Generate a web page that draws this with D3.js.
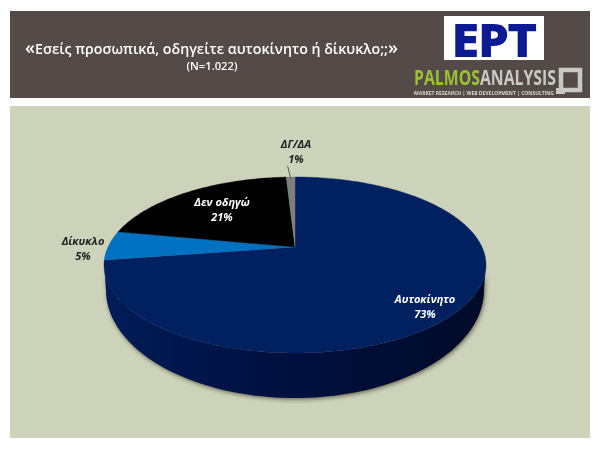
<!DOCTYPE html>
<html><head><meta charset="utf-8">
<script src="https://cdn.jsdelivr.net/npm/d3@7"></script>
<style>html,body{margin:0;padding:0;background:#fff}svg{display:block}text{font-family:"Open Sans","Noto Sans",sans-serif}</style>
</head><body><script>
const categories = ["Αυτοκίνητο","Δίκυκλο","Δεν οδηγώ","ΔΓ/ΔΑ"];
const values = [72.6,5.4,21.1,0.9];
const sliceColors = ["#002060","#0070c0","#000000","#7f7f7f"];
const titleText = "Εσείς προσωπικά, οδηγείτε αυτοκίνητο ή δίκυκλο;;";
const subtitle = "(N=1.022)";

const W=600,H=450;
const svg=d3.select("body").append("svg").attr("width",W).attr("height",H);
const defs=svg.append("defs");
const blur=defs.append("filter").attr("id","soft").attr("x","-5%").attr("y","-5%").attr("width","110%").attr("height","115%");
blur.append("feGaussianBlur").attr("stdDeviation",2.2);
const tb=defs.append("filter").attr("id","tb").attr("x","-5%").attr("y","-20%").attr("width","110%").attr("height","140%");
tb.append("feGaussianBlur").attr("stdDeviation",0.35);
const sideGrad=defs.append("linearGradient").attr("id","side");
sideGrad.append("stop").attr("offset","0").attr("stop-color","#001c58");
sideGrad.append("stop").attr("offset","0.45").attr("stop-color","#001040");
sideGrad.append("stop").attr("offset","1").attr("stop-color","#000a28");

svg.append("rect").attr("width",W).attr("height",H).attr("fill","#fff");
svg.append("rect").attr("x",10).attr("y",11).attr("width",580).attr("height",87).attr("fill","#544a48");
svg.append("rect").attr("x",10).attr("y",106).attr("width",580).attr("height",332).attr("fill","#cdd2bb");

// header
const hdr=svg.append("g").attr("filter","url(#tb)");
const tt=hdr.append("text").attr("x",211.5).attr("y",54).attr("text-anchor","middle").attr("fill","#fff").attr("font-size",14.2).attr("font-weight",600).attr("textLength",373).attr("lengthAdjust","spacing");
tt.append("tspan").attr("font-size",18).text("«");
tt.append("tspan").text(titleText);
tt.append("tspan").attr("font-size",18).text("»");
hdr.append("text").attr("x",212).attr("y",70).attr("text-anchor","middle").attr("fill","#fff").attr("font-size",11.2).attr("font-weight",600).text(subtitle);
hdr.append("rect").attr("x",444).attr("y",16).attr("width",100).attr("height",44).attr("fill","#fff");
hdr.append("text").attr("x",494).attr("y",55.5).attr("text-anchor","middle").attr("fill","#0a1a94").attr("stroke","#0a1a94").attr("stroke-width",1.8).attr("font-family","Liberation Sans").attr("font-weight",700).attr("font-size",43).attr("textLength",84).attr("lengthAdjust","spacingAndGlyphs").text("EPT");
const pal=hdr.append("text").attr("x",414).attr("y",85).attr("font-family","Liberation Sans Narrow, Liberation Sans").attr("font-weight",700).attr("font-size",21).attr("textLength",142).attr("lengthAdjust","spacingAndGlyphs");
pal.append("tspan").attr("fill","#9bc232").text("PALMOS");
pal.append("tspan").attr("fill","#c8c8c4").text("ANALYSIS");
hdr.append("text").attr("x",414).attr("y",94.5).attr("font-family","Liberation Sans").attr("font-weight",700).attr("font-size",4.6).attr("fill","#d8d8d4").attr("textLength",140).attr("lengthAdjust","spacingAndGlyphs").text("MARKET RESEARCH | WEB DEVELOPMENT | CONSULTING");
hdr.append("rect").attr("x",561).attr("y",70).attr("width",19).attr("height",20).attr("fill","none").attr("stroke","#c8c8c4").attr("stroke-width",4.5);
hdr.append("rect").attr("x",556).attr("y",88).attr("width",9).attr("height",6).attr("fill","#c8c8c4");

// pie in perspective: unit circle → ellipse by a projective map
const cx=295,cy=265,rx=191,ry=88,k=-0.2045;
const pie=d3.pie().sort(null).value(d=>d);
const arcs=pie(values);
function proj(a,r=1){
  const u=r*Math.sin(a),v=-r*Math.cos(a),d=1+k*v;
  return [cx+rx*u*Math.sqrt(1-k*k)/d, cy+ry*(v+k)/d];
}
const line=d3.line();
const botRx=189,botCy=290,botRy=108;
const sideTop=d3.range(0,Math.PI+0.001,Math.PI/90).map(t=>[cx+rx*Math.cos(t),cy+ry*Math.sin(t)]);
const sideBot=d3.range(Math.PI,-0.001,-Math.PI/90).map(t=>[cx+botRx*Math.cos(t),botCy+botRy*Math.sin(t)]);
const sidePts=sideTop.concat(sideBot);
svg.append("path").attr("d",line(sidePts)+"Z").attr("transform","translate(1,1.5)").attr("fill","#45452f").attr("opacity",0.75).attr("filter","url(#soft)");
svg.append("path").attr("d",line(sidePts)+"Z").attr("fill","url(#side)");
// top slices
svg.append("g").selectAll("path").data(arcs).join("path")
  .attr("d",d=>{
    const n=Math.max(4,Math.ceil((d.endAngle-d.startAngle)/0.02));
    const pts=d3.range(n+1).map(i=>proj(d.startAngle+(d.endAngle-d.startAngle)*i/n));
    return line([proj(0,0),...pts])+"Z";
  })
  .attr("fill",(d,i)=>sliceColors[i]).attr("stroke",(d,i)=>sliceColors[i]).attr("stroke-width",0.4);

// labels
const labelPos=[[425,303,"#fff"],[83,245,"#222"],[222,206,"#fff"],[296,148,"#222"]];
const lab=svg.append("g").attr("filter","url(#tb)").selectAll("text").data(arcs).join("text")
  .attr("text-anchor","middle").attr("font-size",11).attr("font-style","italic").attr("font-weight",700).attr("fill",(d,i)=>labelPos[i][2]);
lab.append("tspan").attr("x",(d,i)=>labelPos[i][0]).attr("y",(d,i)=>labelPos[i][1]).text((d,i)=>categories[i]);
lab.append("tspan").attr("x",(d,i)=>labelPos[i][0]).attr("y",(d,i)=>labelPos[i][1]+15).text(d=>Math.round(d.value)+"%");
// leader line for ΔΓ/ΔΑ
const e=proj((arcs[3].startAngle+arcs[3].endAngle)/2);
svg.append("path").attr("d",line([[e[0]-3,166],[e[0],e[1]+1]])).attr("stroke","#333").attr("stroke-width",0.8).attr("fill","none");
</script></body></html>
